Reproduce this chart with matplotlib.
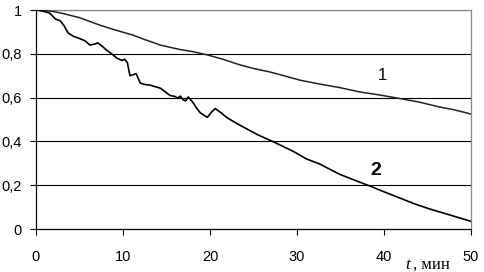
import matplotlib
matplotlib.use("Agg")
import matplotlib.pyplot as plt

# Curve 1 (slow decay)
t1 = [0, 1, 2, 3, 5, 7.4, 9, 11.1, 12.5, 14.3, 16.5, 18, 19.7, 21.5, 23.4, 25,
      26.9, 28.5, 30.3, 32.6, 35, 37.2, 39.5, 41.8, 44, 46.4, 48, 50]
y1 = [1, 0.998, 0.993, 0.985, 0.965, 0.93, 0.91, 0.886, 0.865, 0.84, 0.82, 0.81,
      0.795, 0.775, 0.75, 0.733, 0.717, 0.70, 0.68, 0.662, 0.645, 0.626, 0.612,
      0.596, 0.58, 0.557, 0.545, 0.525]

# Curve 2 (fast decay)
t2 = [0, 0.8, 1.6, 2.2, 2.8, 3.2, 3.7, 4.3, 5, 5.6, 6.2, 6.8, 7.1, 7.6, 8.1, 8.7,
      9.3, 9.9, 10.2, 10.5, 10.8, 11.2, 11.5, 12, 12.5, 13.1, 14.3, 15.4, 16.0,
      16.3, 16.6, 16.9, 17.2, 17.5, 18, 18.5, 18.9, 19.7, 20.2, 20.6, 21.3, 22,
      23.4, 25.5, 27.2, 29.5, 31.1, 32.6, 34.9, 36.5, 38.4, 40, 41.8, 43.5, 45.3,
      47.5, 50]
y2 = [1, 0.995, 0.985, 0.96, 0.95, 0.93, 0.895, 0.88, 0.87, 0.86, 0.84, 0.845,
      0.85, 0.835, 0.817, 0.80, 0.78, 0.77, 0.775, 0.76, 0.70, 0.705, 0.71, 0.666,
      0.66, 0.657, 0.643, 0.61, 0.605, 0.598, 0.607, 0.59, 0.585, 0.603, 0.58,
      0.55, 0.53, 0.51, 0.535, 0.55, 0.53, 0.507, 0.475, 0.43, 0.40, 0.356, 0.32,
      0.297, 0.25, 0.225, 0.196, 0.17, 0.142, 0.115, 0.091, 0.065, 0.035]

x_ticks = [0, 10, 20, 30, 40, 50]
y_ticks = [0, 0.2, 0.4, 0.6, 0.8, 1]
y_labels = ["0", "0,2", "0,4", "0,6", "0,8", "1"]

fig = plt.figure(figsize=(4.85, 2.72), dpi=100)
ax = fig.add_axes([0.0742, 0.158, 0.8969, 0.8052])

for v in y_ticks[1:-1]:
    ax.axhline(v, color="black", lw=0.8, zorder=1)
ax.axhline(1, color="#888888", lw=0.9, zorder=1)

ax.plot(t1, y1, color="#222222", lw=1.1, zorder=3)
ax.plot(t2, y2, color="black", lw=1.2, zorder=3)

ax.text(39.8, 0.70, "1", fontsize=12, family="Liberation Sans", ha="center", va="center")
ax.text(39.0, 0.265, "2", fontsize=14, family="Liberation Sans", fontweight="bold",
        ha="center", va="center")

ax.set_xlim(0, 50)
ax.set_ylim(0, 1)
ax.set_xticks(x_ticks)
ax.set_yticks(y_ticks)
ax.set_yticklabels(y_labels)
for lab in ax.get_xticklabels() + ax.get_yticklabels():
    lab.set_family("Liberation Sans")
    lab.set_fontsize(10.5)
ax.tick_params(axis="both", direction="out", length=4, width=0.8, color="black")
ax.tick_params(axis="x", pad=11)
ax.tick_params(axis="y", pad=6)

ax.spines["left"].set_color("black")
ax.spines["bottom"].set_color("black")
ax.spines["top"].set_color("#888888")
ax.spines["right"].set_color("#888888")
for s in ax.spines.values():
    s.set_linewidth(0.9)

fig.text(0.835, 0.012, "t", fontsize=12.5, family="Liberation Serif", style="italic", ha="left")
fig.text(0.851, 0.012, ", мин", fontsize=12, family="Liberation Serif", ha="left")

fig.savefig("out.png", dpi=100)
